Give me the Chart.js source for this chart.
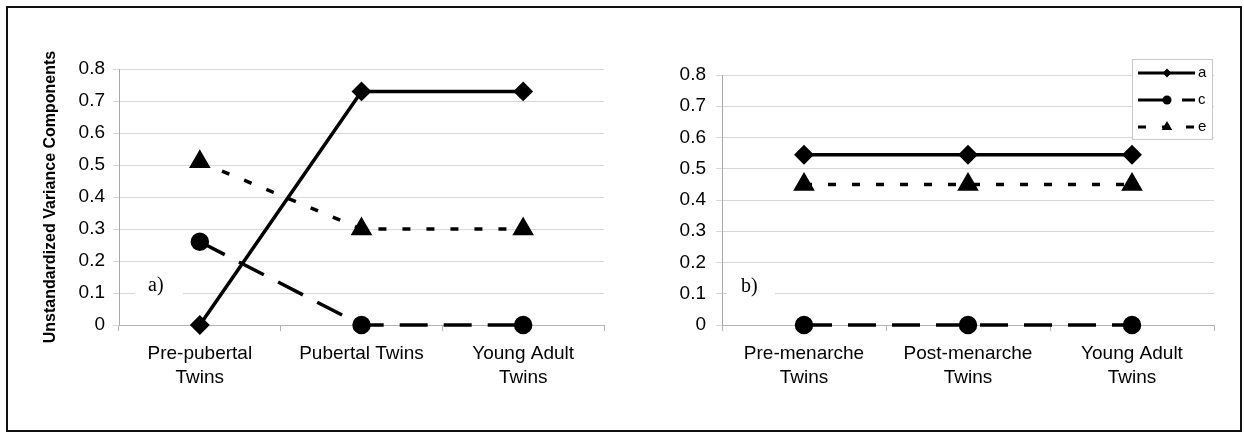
<!DOCTYPE html>
<html>
<head>
<meta charset="UTF-8">
<title>Variance Components</title>
<script src="https://cdn.jsdelivr.net/npm/chart.js"></script>
<style>
    body { margin: 0; background: #fff; }
    #wrap { position: relative; width: 1244px; height: 437px; }
    #frame {
        position: absolute; left: 6px; top: 6px; width: 1232px; height: 422px;
        border: 2px solid #111; pointer-events: none;
    }
    #chartA { position: absolute; left: 0; top: 0; }
    #chartB { position: absolute; left: 620px; top: 0; }
</style>
</head>
<body>
<div id="wrap">
    <canvas id="chartA" width="620" height="437"></canvas>
    <canvas id="chartB" width="624" height="437"></canvas>
    <div id="frame"></div>
</div>

<script>
    // panel a) - pubertal groups
    const categoriesA = [['Pre-pubertal', 'Twins'], 'Pubertal Twins', ['Young Adult', 'Twins']];
    const aValuesA = [0, 0.73, 0.73];
    const cValuesA = [0.26, 0, 0];
    const eValuesA = [0.51, 0.30, 0.30];

    // panel b) - menarche groups
    const categoriesB = [['Pre-menarche', 'Twins'], ['Post-menarche', 'Twins'], ['Young Adult', 'Twins']];
    const aValuesB = [0.545, 0.545, 0.545];
    const cValuesB = [0, 0, 0];
    const eValuesB = [0.45, 0.45, 0.45];

    const seriesNames = ['a', 'c', 'e'];
    const yTickLabels = ['0', '0.1', '0.2', '0.3', '0.4', '0.5', '0.6', '0.7', '0.8'];

    const sansFont = "'Liberation Sans', Arial, sans-serif";
    const serifFont = "'Liberation Serif', 'Times New Roman', serif";

    const makeDatasets = (a, c, e) => [
        { label: seriesNames[0], data: a, borderColor: '#000', backgroundColor: '#000', borderWidth: 3.5,
          pointStyle: 'rectRot', pointRadius: 7.5, pointHoverRadius: 7.5, clip: false },
        { label: seriesNames[1], data: c, borderColor: '#000', backgroundColor: '#000', borderWidth: 3.5,
          borderDash: [28, 16], pointStyle: 'circle', pointRadius: 7.5, pointHoverRadius: 7.5, clip: false },
        { label: seriesNames[2], data: e, borderColor: '#000', backgroundColor: '#000', borderWidth: 3.5,
          borderDash: [8, 16], pointStyle: 'triangle', pointRadius: 9, pointHoverRadius: 9, clip: false }
    ];

    // "a)" / "b)" tag sitting on a white patch over the 0.1 gridline
    const panelTag = {
        id: 'panelTag',
        beforeDatasetsDraw(chart, args, opts) {
            const ctx = chart.ctx;
            const left = chart.chartArea.left;
            const y = chart.scales.y.getPixelForValue(0.1);
            ctx.save();
            ctx.fillStyle = '#fff';
            ctx.fillRect(left + opts.boxFrom, y - 5, opts.boxTo - opts.boxFrom, 10);
            ctx.fillStyle = '#000';
            ctx.font = '20px ' + serifFont;
            ctx.textBaseline = 'alphabetic';
            ctx.fillText(opts.text, left + opts.textX, y - 2);
            ctx.restore();
        }
    };

    const drawMarker = (ctx, style, x, y, r) => {
        ctx.beginPath();
        if (style === 'rectRot') {
            ctx.moveTo(x, y - r); ctx.lineTo(x + r, y); ctx.lineTo(x, y + r); ctx.lineTo(x - r, y);
        } else if (style === 'circle') {
            ctx.arc(x, y, r, 0, Math.PI * 2);
        } else {
            ctx.moveTo(x, y - r); ctx.lineTo(x + r * 0.87, y + r * 0.5); ctx.lineTo(x - r * 0.87, y + r * 0.5);
        }
        ctx.closePath();
        ctx.fill();
    };

    // excel style legend: line sample with marker in the middle
    const lineLegend = {
        id: 'lineLegend',
        afterDraw(chart, args, opts) {
            if (!opts.show) return;
            const ctx = chart.ctx;
            const bx = chart.chartArea.right - 82, by = 59, bw = 80, bh = 80;
            ctx.save();
            ctx.fillStyle = '#fff';
            ctx.fillRect(bx, by, bw, bh);
            ctx.strokeStyle = '#c8c8c8';
            ctx.lineWidth = 1;
            ctx.strokeRect(bx + 0.5, by + 0.5, bw, bh);
            const sizes = { rectRot: 4.5, circle: 4.5, triangle: 6 };
            chart.data.datasets.forEach((ds, i) => {
                const y = by + 14 + i * 27;
                ctx.strokeStyle = '#000';
                ctx.lineWidth = 3;
                ctx.setLineDash(ds.borderDash || []);
                ctx.beginPath();
                ctx.moveTo(bx + 6, y);
                ctx.lineTo(bx + 63, y);
                ctx.stroke();
                ctx.setLineDash([]);
                ctx.fillStyle = '#000';
                drawMarker(ctx, ds.pointStyle, bx + 35, y, sizes[ds.pointStyle]);
                ctx.font = '15px ' + sansFont;
                ctx.textBaseline = 'middle';
                ctx.fillText(ds.label, bx + 66, y);
            });
            ctx.restore();
        }
    };

    const makeOptions = (cfg) => ({
        responsive: false,
        animation: false,
        layout: { padding: cfg.padding },
        plugins: {
            legend: { display: false },
            tooltip: { enabled: false },
            panelTag: cfg.tag,
            lineLegend: { show: cfg.legend }
        },
        scales: {
            x: {
                offset: true,
                grid: { offset: true, drawOnChartArea: false, tickLength: 6, color: '#b4b4b4' },
                border: { color: '#b4b4b4' },
                ticks: { padding: 10, color: '#000', maxRotation: 0, autoSkip: false,
                         font: { family: sansFont, size: 19, lineHeight: 1.3 } },
                afterFit(s) { s.height = 112; }
            },
            y: {
                min: 0, max: 0.8,
                grid: { color: '#d8d8d8', tickLength: 6 },
                border: { color: '#a8a8a8' },
                ticks: { stepSize: 0.1, padding: cfg.tickPad, color: '#000',
                         font: { family: sansFont, size: 19 },
                         callback: (v, i) => yTickLabels[i] },
                title: { display: cfg.yTitle !== '', text: cfg.yTitle, color: '#000',
                         padding: { top: 0, bottom: 0 },
                         font: { family: sansFont, size: 16, weight: 'bold' } },
                afterFit(s) { s.width = cfg.yWidth; }
            }
        }
    });

    new Chart(document.getElementById('chartA'), {
        type: 'line',
        data: { labels: categoriesA, datasets: makeDatasets(aValuesA, cValuesA, eValuesA) },
        options: makeOptions({
            padding: { left: 41, right: 16, top: 69, bottom: 0 },
            yWidth: 78, tickPad: 8,
            yTitle: 'Unstandardized Variance Components',
            tag: { text: 'a)', boxFrom: 16, boxTo: 64, textX: 29 },
            legend: false
        }),
        plugins: [panelTag, lineLegend]
    });

    new Chart(document.getElementById('chartB'), {
        type: 'line',
        data: { labels: categoriesB, datasets: makeDatasets(aValuesB, cValuesB, eValuesB) },
        options: makeOptions({
            padding: { left: 0, right: 30, top: 75, bottom: 0 },
            yWidth: 102, tickPad: 10,
            yTitle: '',
            tag: { text: 'b)', boxFrom: 5, boxTo: 53, textX: 19 },
            legend: true
        }),
        plugins: [panelTag, lineLegend]
    });
</script>
</body>
</html>
